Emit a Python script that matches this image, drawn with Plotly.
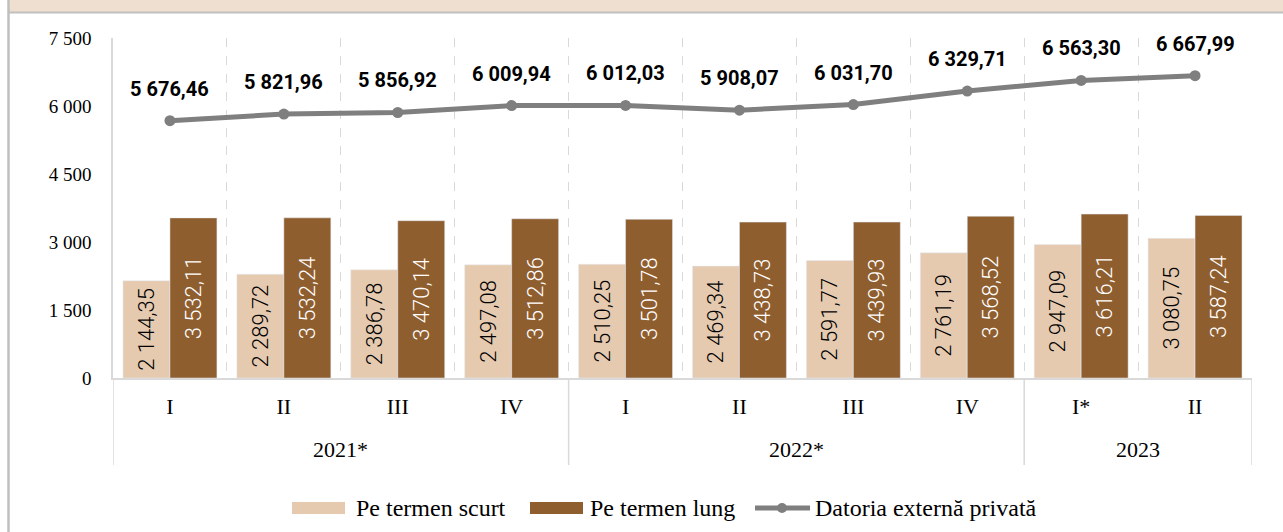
import plotly.graph_objects as go

# ---------------- data ----------------
years = ["2021*"] * 4 + ["2022*"] * 4 + ["2023"] * 2
quarters = ["I", "II", "III", "IV", "I", "II", "III", "IV", "I*", "II"]
short_term = [2144.35, 2289.72, 2386.78, 2497.08, 2510.25, 2469.34, 2591.77, 2761.19, 2947.09, 3080.75]
long_term = [3532.11, 3532.24, 3470.14, 3512.86, 3501.78, 3438.73, 3439.93, 3568.52, 3616.21, 3587.24]
total_private = [5676.46, 5821.96, 5856.92, 6009.94, 6012.03, 5908.07, 6031.70, 6329.71, 6563.30, 6667.99]
y_tick_values = [0, 1500, 3000, 4500, 6000, 7500]
y_tick_labels = ["0", "1 500", "3 000", "4 500", "6 000", "7 500"]
series_names = ["Pe termen scurt", "Pe termen lung", "Datoria externă privată"]

# ---------------- style ----------------
LIGHT = "#E5CAB0"
DARK = "#8F5E2F"
GREY = "#7F7F7F"
AXIS_GREY = "#D9D9D9"
SERIF = "Liberation Serif, serif"
BAR_FONT = "Roboto, sans-serif"
BOLD_SANS = "Roboto, Liberation Sans, sans-serif"

W, H = 1283, 532
L, R, T, B = 113, 31, 38, 154
PW, PH = W - L - R, H - T - B


def px(xpix):
    return (xpix - L) / PW


def py(ypix):
    return (H - B - ypix) / PH


def fmt(v):
    return f"{v:,.2f}".replace(",", " ").replace(".", ",")


n = len(quarters)
x_pos = list(range(n))
boundaries = [-0.5] + [i + 0.5 for i in x_pos]
group_edges = [-0.5] + [i + 0.5 for i in range(n - 1) if years[i] != years[i + 1]] + [n - 0.5]

fig = go.Figure()
fig.add_trace(go.Bar(
    x=x_pos, y=short_term, name=series_names[0], marker_color=LIGHT,
    texttemplate="%{y:,.2f}", textposition="inside", insidetextanchor="middle",
    textangle=-90, textfont=dict(family=BAR_FONT, size=22, color="black", weight=300),
    showlegend=False,
))
fig.add_trace(go.Bar(
    x=x_pos, y=long_term, name=series_names[1], marker_color=DARK,
    texttemplate="%{y:,.2f}", textposition="inside", insidetextanchor="middle",
    textangle=-90, textfont=dict(family=BAR_FONT, size=22, color="white", weight=300),
    showlegend=False,
))
fig.add_trace(go.Scatter(
    x=x_pos, y=total_private, name=series_names[2], mode="lines+markers",
    line=dict(color=GREY, width=5), marker=dict(size=11, color=GREY),
    showlegend=False,
))

annotations = []
for i, v in zip(x_pos, total_private):
    annotations.append(dict(
        x=i, y=v, xref="x", yref="y", text="<b>" + fmt(v) + "</b>",
        showarrow=False, yshift=32, font=dict(family=BOLD_SANS, size=20, color="black"),
    ))

# year group labels under the quarter labels
seen = []
for yr in years:
    if yr not in seen:
        seen.append(yr)
for yr in seen:
    idx = [i for i in x_pos if years[i] == yr]
    annotations.append(dict(
        x=sum(idx) / len(idx), y=py(450), xref="x", yref="paper", yanchor="middle",
        text=yr, showarrow=False, font=dict(family=SERIF, size=22, color="black"),
    ))

leg_y = 508
shapes = [
    # top title band and border lines
    dict(type="rect", xref="paper", yref="paper", x0=px(8), x1=px(W + 5), y0=py(12), y1=py(-5),
         fillcolor="#EFDFD0", line_width=0, layer="below"),
    dict(type="line", xref="paper", yref="paper", x0=px(8), x1=px(W + 5), y0=py(12.5), y1=py(12.5),
         line=dict(color="#C0C0C0", width=2)),
    dict(type="line", xref="paper", yref="paper", x0=px(8.5), x1=px(8.5), y0=py(0), y1=py(H + 5),
         line=dict(color="#BFBFBF", width=2.5)),
    # legend swatches
    dict(type="rect", xref="paper", yref="paper", x0=px(292), x1=px(345), y0=py(leg_y - 6), y1=py(leg_y + 6),
         fillcolor=LIGHT, line_width=0),
    dict(type="rect", xref="paper", yref="paper", x0=px(530), x1=px(583), y0=py(leg_y - 6), y1=py(leg_y + 6),
         fillcolor=DARK, line_width=0),
    dict(type="line", xref="paper", yref="paper", x0=px(755), x1=px(810), y0=py(leg_y), y1=py(leg_y),
         line=dict(color=GREY, width=5)),
    dict(type="circle", xref="paper", yref="paper", x0=px(777), x1=px(787), y0=py(leg_y - 5), y1=py(leg_y + 5),
         fillcolor=GREY, line_width=0),
]
# group dividers below the axis
for e in group_edges:
    shapes.append(dict(type="line", xref="x", yref="paper", x0=e, x1=e, y0=0, y1=py(465),
                       line=dict(color=AXIS_GREY, width=1.5)))

for name, xs in zip(series_names, [354, 588, 813]):
    annotations.append(dict(
        x=px(xs), y=py(leg_y), xref="paper", yref="paper", xanchor="left", yanchor="middle",
        text=name, showarrow=False, font=dict(family=SERIF, size=24, color="black"),
    ))

fig.update_layout(
    width=W, height=H,
    margin=dict(l=L, r=R, t=T, b=B, pad=0),
    paper_bgcolor="white", plot_bgcolor="white",
    barmode="group", bargap=0.175, bargroupgap=0,
    separators=", ",
    showlegend=False,
    annotations=annotations,
    shapes=shapes,
    xaxis=dict(
        range=[-0.5, n - 0.5], tickvals=x_pos, ticktext=quarters, showgrid=False,
        ticks="", showline=True, linecolor=AXIS_GREY, linewidth=2, zeroline=False,
        tickfont=dict(family=SERIF, size=22, color="black"), ticklabelstandoff=8,
        minor=dict(tickvals=boundaries, showgrid=True, gridcolor=AXIS_GREY, griddash="dash",
                   gridwidth=1, ticks=""),
        automargin=False, fixedrange=True,
    ),
    yaxis=dict(
        range=[0, 7500], tickvals=y_tick_values, ticktext=y_tick_labels, showgrid=False,
        showline=True, linecolor=AXIS_GREY, linewidth=1.5, ticks="", zeroline=False,
        ticklabelstandoff=16, tickfont=dict(family=SERIF, size=19, color="black"),
        automargin=False, fixedrange=True,
    ),
)

fig.write_html("out.html", config={"displayModeBar": False},
               post_script="document.body.style.margin='0';")
